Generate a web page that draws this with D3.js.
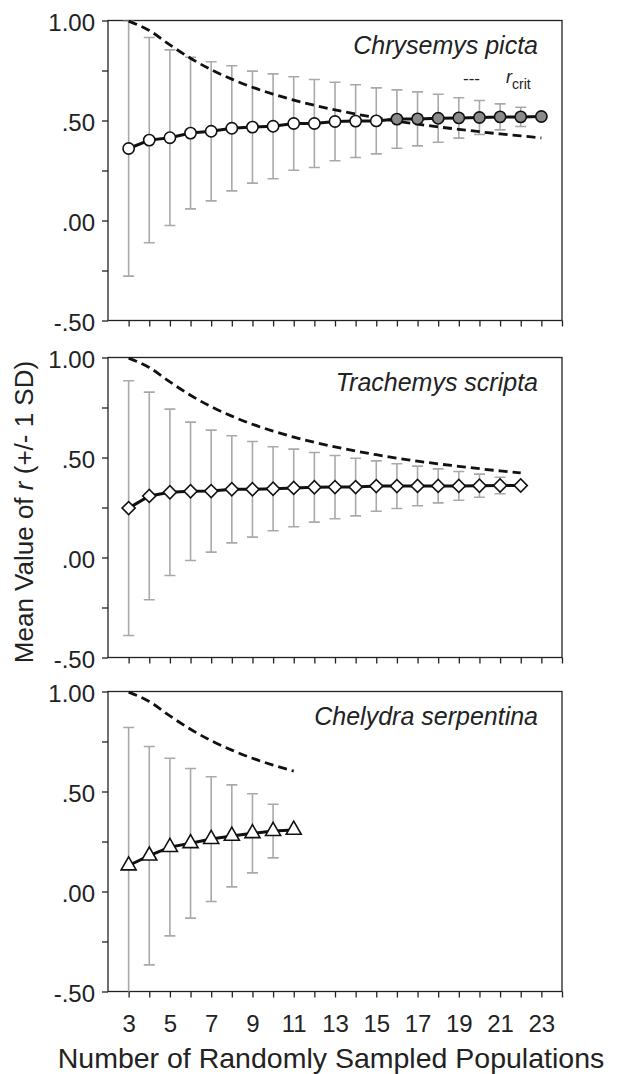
<!DOCTYPE html>
<html>
<head>
<meta charset="utf-8">
<script src="https://cdn.jsdelivr.net/npm/d3@7"></script>
<style>
  body { margin: 0; background: #fff; }
  text { font-family: "Liberation Sans", Arial, sans-serif; fill: #222; }
</style>
</head>
<body>
<div id="chart"></div>
<script>
const width = 619;
const height = 1074;

// x categories: number of randomly sampled populations
const sampleSizes = [3, 4, 5, 6, 7, 8, 9, 10, 11, 12, 13, 14, 15, 16, 17, 18, 19, 20, 21, 22, 23];
const xTickLabels = [3, 5, 7, 9, 11, 13, 15, 17, 19, 21, 23];
const yTickValues = [-0.5, -0.25, 0, 0.25, 0.5, 0.75, 1];
const yTickLabels = { "-0.5": "-.50", "0": ".00", "0.5": ".50", "1": "1.00" };

const speciesNames = ["Chrysemys picta", "Trachemys scripta", "Chelydra serpentina"];

// critical r
const rCrit = [0.997, 0.950, 0.878, 0.811, 0.754, 0.707, 0.666, 0.632, 0.602, 0.576, 0.553,
               0.532, 0.514, 0.497, 0.482, 0.468, 0.456, 0.444, 0.433, 0.423, 0.413];

// Chrysemys picta, n = 3..23
const pictaMean = [0.360, 0.402, 0.414, 0.437, 0.446, 0.461, 0.467, 0.471, 0.485, 0.485, 0.495,
                   0.497, 0.498, 0.507, 0.508, 0.511, 0.513, 0.515, 0.518, 0.518, 0.520];
const pictaSD = [0.638, 0.513, 0.439, 0.379, 0.348, 0.313, 0.280, 0.262, 0.234, 0.220, 0.196,
                 0.182, 0.165, 0.146, 0.135, 0.120, 0.101, 0.085, 0.065, 0.048, 0];

// Trachemys scripta, n = 3..22
const scriptaMean = [0.247, 0.308, 0.326, 0.331, 0.332, 0.341, 0.341, 0.344, 0.348, 0.351,
                     0.352, 0.352, 0.357, 0.357, 0.358, 0.358, 0.358, 0.359, 0.360, 0.360];
const scriptaSD = [0.637, 0.519, 0.416, 0.346, 0.305, 0.268, 0.239, 0.210, 0.194, 0.174,
                   0.158, 0.144, 0.126, 0.112, 0.099, 0.085, 0.072, 0.058, 0.041, 0];

// Chelydra serpentina, n = 3..11
const serpentinaMean = [0.130, 0.179, 0.222, 0.241, 0.262, 0.278, 0.291, 0.302, 0.308];
const serpentinaSD = [0.690, 0.546, 0.444, 0.374, 0.312, 0.255, 0.198, 0.134, 0];

const panels = [
  { name: speciesNames[0], mean: pictaMean, sd: pictaSD, shape: "circle", top: 20.5 },
  { name: speciesNames[1], mean: scriptaMean, sd: scriptaSD, shape: "diamond", top: 357.5 },
  { name: speciesNames[2], mean: serpentinaMean, sd: serpentinaSD, shape: "triangle", top: 691.5 }
];

const marginLeft = 108;
const plotRight = 562;
const panelHeight = 300;

const x = d3.scaleLinear()
    .domain([2, 24])
    .range([marginLeft, plotRight]);

const svg = d3.select("#chart")
  .append("svg")
    .attr("width", width)
    .attr("height", height);

const symbols = {
  circle: d3.symbol(d3.symbolCircle, 100),
  diamond: d3.symbol(d3.symbolSquare, 86),
  triangle: d3.symbol(d3.symbolTriangle, 98)
};

panels.forEach((p, i) => {
  const y = d3.scaleLinear()
      .domain([-0.5, 1])
      .range([p.top + panelHeight, p.top]);

  const rows = p.mean.map((m, j) => ({
    n: sampleSizes[j], mean: m, sd: p.sd[j], crit: rCrit[j]
  }));

  const g = svg.append("g");

  g.append("clipPath")
      .attr("id", "clip" + i)
    .append("rect")
      .attr("x", marginLeft)
      .attr("y", p.top)
      .attr("width", plotRight - marginLeft)
      .attr("height", panelHeight);

  // y axis
  const yAxis = g.append("g")
      .attr("transform", `translate(${marginLeft},0)`)
      .call(d3.axisLeft(y)
        .tickValues(yTickValues)
        .tickSize(6)
        .tickPadding(7)
        .tickFormat(d => yTickLabels[String(d)] || ""));
  yAxis.select(".domain").remove();
  yAxis.selectAll("line").attr("stroke", "#222").attr("stroke-width", 1.3);
  yAxis.selectAll("text")
      .attr("font-size", 24)
      .attr("dy", "0.42em")
      .style("font-family", "Liberation Sans, Arial, sans-serif")
      .attr("fill", "#222");

  // x axis
  const xAxis = g.append("g")
      .attr("transform", `translate(0,${p.top + panelHeight})`)
      .call(d3.axisBottom(x)
        .tickValues(d3.range(3, 25))
        .tickSize(6)
        .tickPadding(17)
        .tickFormat(d => (i === 2 && xTickLabels.includes(d)) ? d : ""));
  xAxis.select(".domain").remove();
  xAxis.selectAll("line").attr("stroke", "#222").attr("stroke-width", 1.3);
  xAxis.selectAll("text")
      .attr("font-size", 24)
      .style("font-family", "Liberation Sans, Arial, sans-serif")
      .attr("fill", "#222");

  // frame
  g.append("rect")
      .attr("x", marginLeft)
      .attr("y", p.top)
      .attr("width", plotRight - marginLeft)
      .attr("height", panelHeight)
      .attr("fill", "none")
      .attr("stroke", "#222")
      .attr("stroke-width", 1.3);

  // error bars
  const bars = g.append("g")
      .attr("clip-path", `url(#clip${i})`)
      .attr("stroke", "#a9a9a9")
      .attr("stroke-width", 1.6)
    .selectAll("g")
    .data(rows.filter(d => d.sd > 0))
    .join("g");
  bars.append("line")
      .attr("x1", d => x(d.n)).attr("x2", d => x(d.n))
      .attr("y1", d => y(d.mean + d.sd)).attr("y2", d => y(d.mean - d.sd));
  bars.append("line")
      .attr("x1", d => x(d.n) - 5.5).attr("x2", d => x(d.n) + 5.5)
      .attr("y1", d => y(d.mean + d.sd)).attr("y2", d => y(d.mean + d.sd));
  bars.append("line")
      .attr("x1", d => x(d.n) - 5.5).attr("x2", d => x(d.n) + 5.5)
      .attr("y1", d => y(d.mean - d.sd)).attr("y2", d => y(d.mean - d.sd));

  // critical r
  g.append("path")
      .datum(rows)
      .attr("fill", "none")
      .attr("stroke", "#111")
      .attr("stroke-width", 2.8)
      .attr("stroke-dasharray", "9,5")
      .attr("d", d3.line()
        .curve(d3.curveMonotoneX)
        .x(d => x(d.n))
        .y(d => y(d.crit)));

  // mean line
  g.append("path")
      .datum(rows)
      .attr("fill", "none")
      .attr("stroke", "#111")
      .attr("stroke-width", 3)
      .attr("d", d3.line()
        .x(d => x(d.n))
        .y(d => y(d.mean)));

  // markers: grey when mean exceeds r crit
  g.selectAll(".pt")
    .data(rows)
    .join("path")
      .attr("class", "pt")
      .attr("transform", d => `translate(${x(d.n)},${y(d.mean)})` +
        (p.shape === "diamond" ? " rotate(45)" : ""))
      .attr("d", symbols[p.shape])
      .attr("fill", d => (d.mean > d.crit ? "#8a8a8a" : "#fff"))
      .attr("stroke", "#111")
      .attr("stroke-width", 1.6);

  // species name
  g.append("text")
      .attr("x", plotRight - 24)
      .attr("y", p.top + 33)
      .attr("text-anchor", "end")
      .attr("font-size", 25)
      .attr("font-style", "italic")
      .text(p.name);
});

// legend
svg.append("text")
    .attr("x", 463)
    .attr("y", 84)
    .attr("font-size", 17)
    .text("---");
const leg = svg.append("text")
    .attr("x", 506)
    .attr("y", 83)
    .attr("font-size", 18);
leg.append("tspan").attr("font-style", "italic").text("r");
leg.append("tspan").attr("font-size", 14).attr("dy", 6).text("crit");

// axis titles
svg.append("text")
    .attr("transform", "rotate(-90)")
    .attr("x", -512)
    .attr("y", 33)
    .attr("text-anchor", "middle")
    .attr("font-size", 26)
    .call(t => {
      t.append("tspan").text("Mean Value of ");
      t.append("tspan").attr("font-style", "italic").text("r");
      t.append("tspan").text(" (+/- 1 SD)");
    });

svg.append("text")
    .attr("x", 331)
    .attr("y", 1068)
    .attr("text-anchor", "middle")
    .attr("font-size", 28.5)
    .text("Number of Randomly Sampled Populations");
</script>
</body>
</html>
